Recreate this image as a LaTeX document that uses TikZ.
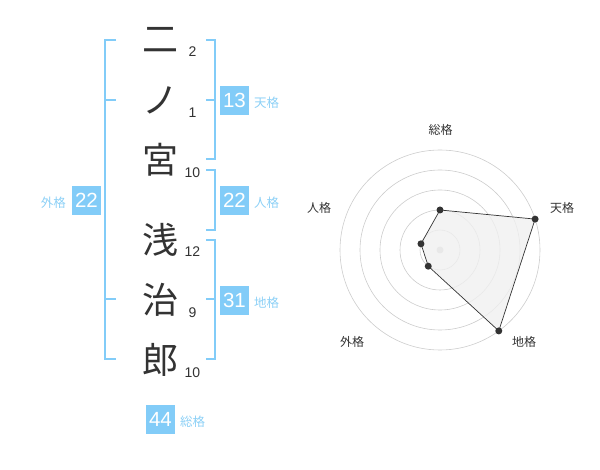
\documentclass[tikz,border=0pt]{standalone}
\usepackage{fontspec}
\setmainfont{Liberation Sans}
\newfontfamily\jp{Noto Sans CJK JP}
\definecolor{kaku}{RGB}{130,204,248}
\definecolor{kakutext}{RGB}{140,208,246}
\definecolor{ink}{RGB}{51,51,51}
\definecolor{wa}{RGB}{204,204,204}
\tikzset{
  moji/.style={font=\jp\fontsize{36}{36}\selectfont, text=ink, inner sep=0pt},
  kakusu/.style={font=\fontsize{14}{14}\selectfont, text=ink, inner sep=0pt},
  kazu/.style={fill=kaku, text=white, minimum size=29pt, inner sep=0pt, font=\fontsize{20.5}{20}\selectfont},
  kakumei/.style={font=\jp\fontsize{12.5}{13}\selectfont, text=kakutext, inner sep=0pt},
  jiku/.style={font=\jp\fontsize{12}{13}\selectfont, text=ink, inner sep=0pt},
  wakusen/.style={draw=kaku, line width=2pt},
  ten/.style={circle, fill=ink, inner sep=0pt, minimum size=7pt}
}

\begin{document}
\begin{tikzpicture}[x=1pt,y=-1pt]
        \useasboundingbox (0,0) rectangle (600,470);

        % name and stroke counts
        \node[moji] (C1) at (160,40) {二};
        \node[moji] (C2) at (160,100) {ノ};
        \node[moji] (C3) at (160,160) {宮};
        \node[moji] (C4) at (160,240) {浅};
        \node[moji] (C5) at (160,300) {治};
        \node[moji] (C6) at (160,360) {郎};
        \node[kakusu] (S1) at (192.5,52) {2};
        \node[kakusu] (S2) at (192.5,113) {1};
        \node[kakusu] (S3) at (192.5,173) {10};
        \node[kakusu] (S4) at (192.5,252) {12};
        \node[kakusu] (S5) at (192.5,313) {9};
        \node[kakusu] (S6) at (192.5,373) {10};

        % brackets
        \draw[wakusen] (116,40) -- (105,40) -- (105,359) -- (116,359);
        \draw[wakusen] (105,100) -- (116,100);
        \draw[wakusen] (105,299) -- (116,299);
        \draw[wakusen] (206,40) -- (215,40) -- (215,159) -- (206,159);
        \draw[wakusen] (206,100) -- (215,100);
        \draw[wakusen] (206,170) -- (215,170) -- (215,230) -- (206,230);
        \draw[wakusen] (206,240) -- (215,240) -- (215,359) -- (206,359);
        \draw[wakusen] (206,299) -- (215,299);

        % totals
        \node[kazu] (Ten) at (234.5,100.5) {13};
        \node[kakumei,anchor=west] (TenL) at (254,103) {天格};
        \node[kazu] (Jin) at (234.5,200.5) {22};
        \node[kakumei,anchor=west] (JinL) at (254,203) {人格};
        \node[kazu] (Chi) at (234.5,300.5) {31};
        \node[kakumei,anchor=west] (ChiL) at (254,303) {地格};
        \node[kazu] (Gai) at (86.5,200.5) {22};
        \node[kakumei,anchor=east] (GaiL) at (66,203) {外格};
        \node[kazu] (Sou) at (160.5,419.5) {44};
        \node[kakumei,anchor=west] (SouL) at (180,422) {総格};

        % radar chart
        \begin{scope}[shift={(440,250)},yscale=-1]
            \foreach \r in {20,40,60,80,100}
                \draw[wa, line width=0.6pt] (0,0) circle (\r);
            \fill[wa] (0,0) circle (3.5);
            \coordinate (P1) at (90:40);
            \coordinate (P2) at (18:100);
            \coordinate (P3) at (-54:100);
            \coordinate (P4) at (-126:20);
            \coordinate (P5) at (162:20);
            \filldraw[fill=black!6, fill opacity=0.8, draw=ink, line width=0.7pt]
                (P1) -- (P2) -- (P3) -- (P4) -- (P5) -- cycle;
            \foreach \p in {P1,P2,P3,P4,P5}
                \node[ten] at (\p) {};
        \end{scope}
        \node[jiku] (SouR) at (440.7,130) {総格};
        \node[jiku] (TenR) at (562,208) {天格};
        \node[jiku] (ChiR) at (524,342) {地格};
        \node[jiku] (GaiR) at (352,342) {外格};
        \node[jiku] (JinR) at (319,208) {人格};

    \end{tikzpicture}
\end{document}
